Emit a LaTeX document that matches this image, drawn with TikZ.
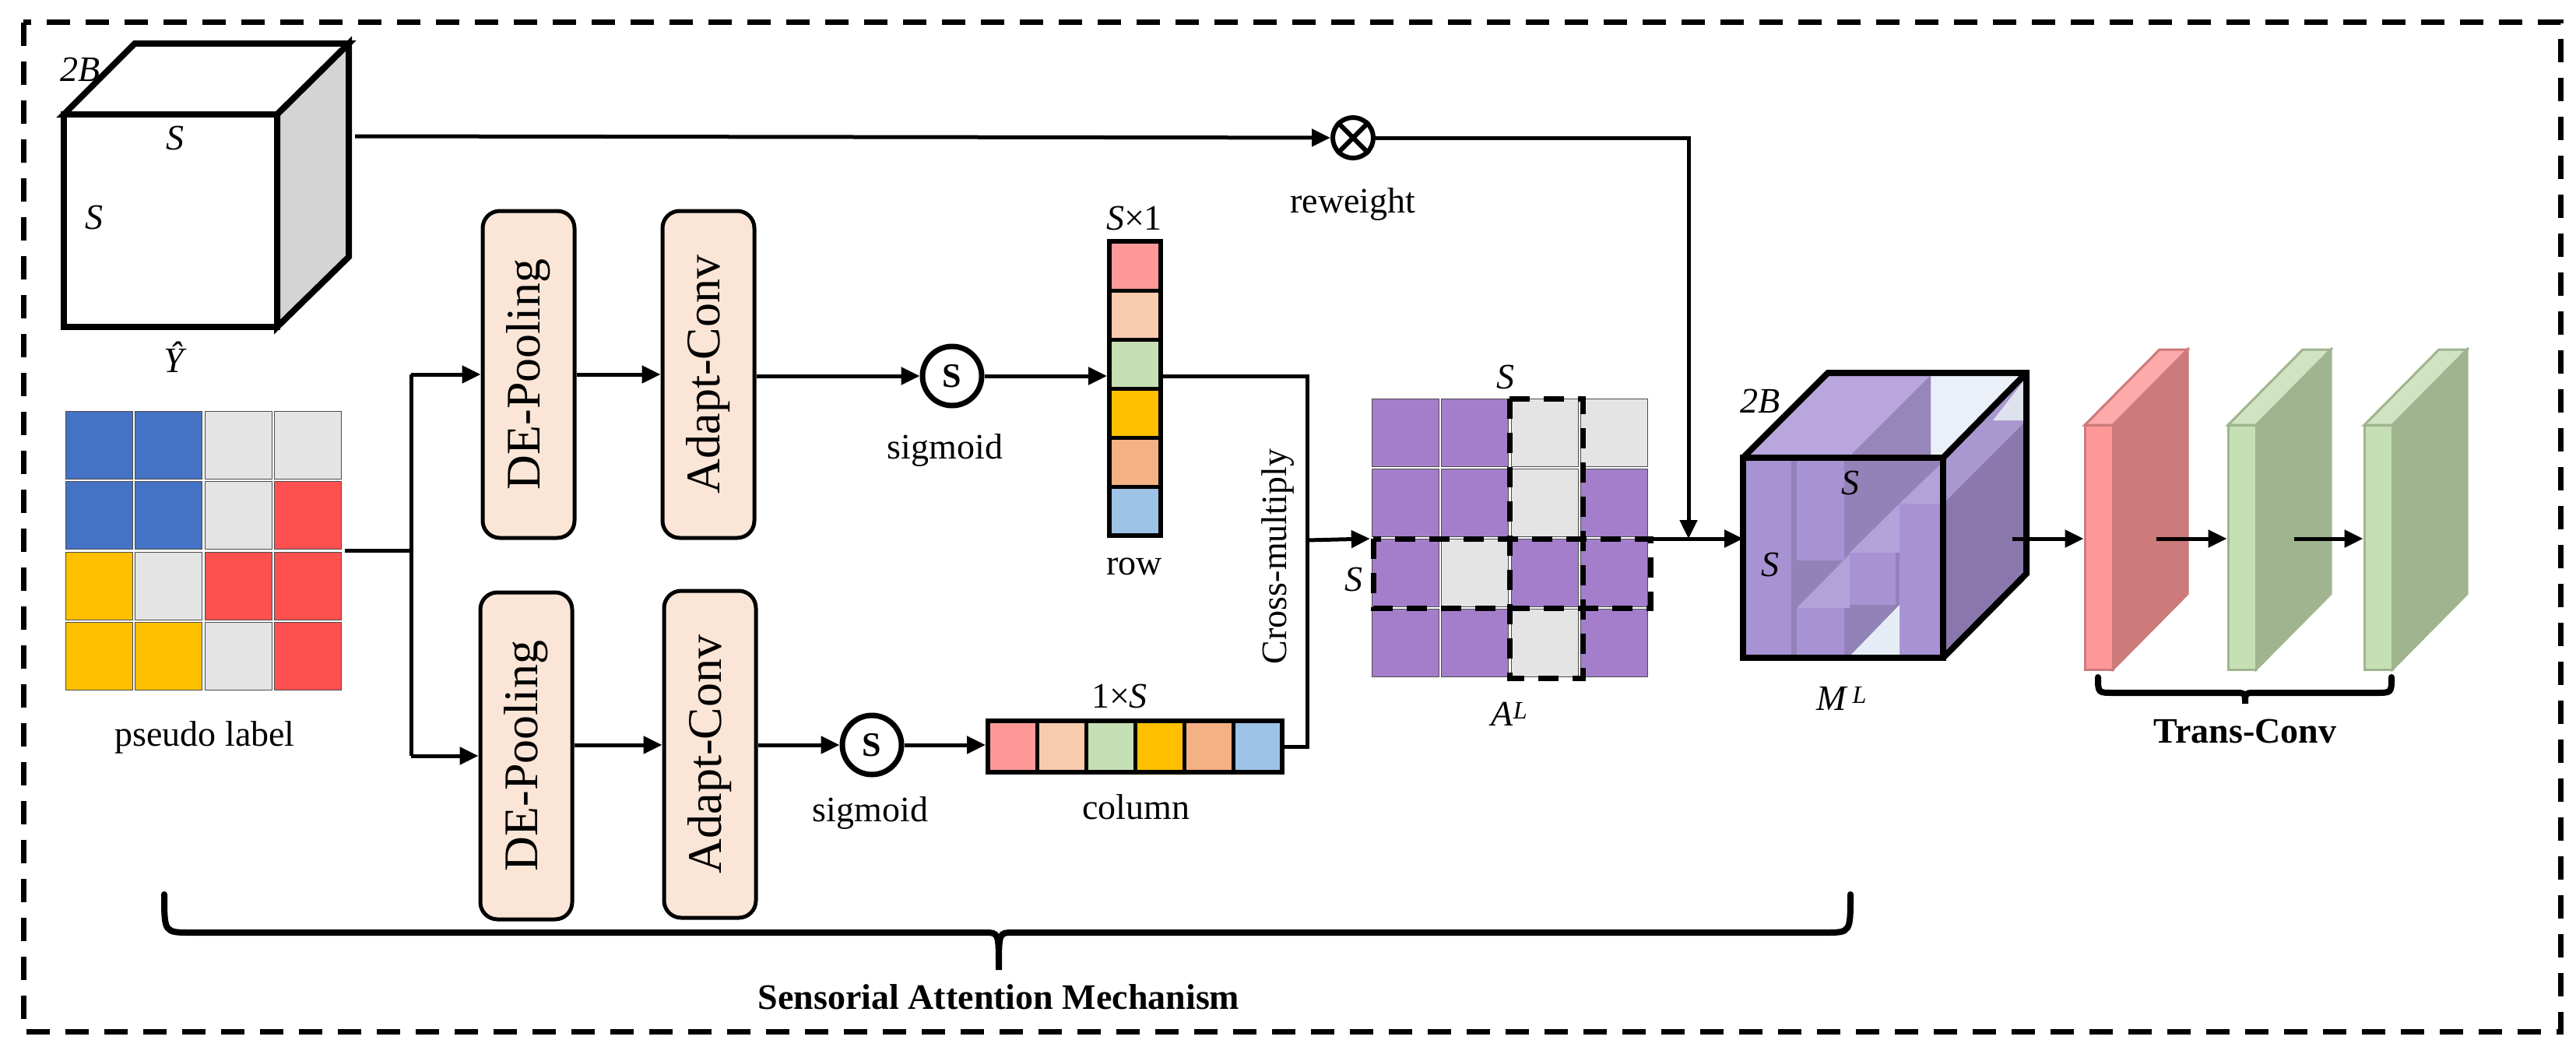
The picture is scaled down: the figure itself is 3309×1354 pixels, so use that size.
\documentclass[tikz,border=0pt]{standalone}
\usepackage{fontspec}
\setmainfont{Liberation Serif}
\usetikzlibrary{arrows.meta}
\definecolor{pblue}{HTML}{4472C4}\definecolor{pgray}{HTML}{E4E4E4}
\definecolor{pred}{HTML}{FF5050}\definecolor{pyel}{HTML}{FFC000}
\definecolor{ppur}{HTML}{A47ECB}\definecolor{boxf}{HTML}{FBE5D6}
\definecolor{c1}{HTML}{FF9999}\definecolor{c2}{HTML}{F8CBAD}\definecolor{c3}{HTML}{C5E0B4}
\definecolor{c4}{HTML}{FFC000}\definecolor{c5}{HTML}{F4B183}\definecolor{c6}{HTML}{9DC3E6}
\definecolor{mlight}{HTML}{EBF0F8}\definecolor{mtop}{HTML}{B8A6DC}\definecolor{mtopd}{HTML}{9786B9}
\definecolor{mside}{HTML}{8A78AD}\definecolor{msidel}{HTML}{A998CF}\definecolor{mgrey}{HTML}{DDE2EC}
\definecolor{mdark}{HTML}{9282B8}\definecolor{mpur}{HTML}{A792D3}\definecolor{mband}{HTML}{B3A2DA}
\definecolor{mwhite}{HTML}{E6ECF6}
\definecolor{rside}{HTML}{CC7A7A}\definecolor{rtop}{HTML}{FFAAAA}
\definecolor{gside}{HTML}{9FB48F}\definecolor{gtop}{HTML}{D0E4C3}
\tikzset{
 x=1pt,y=-1pt,
 arr/.style={line width=5pt,-{Triangle[length=24pt,width=22pt]}},
 ln/.style={line width=5pt},
 lab/.style={font=\fontsize{46}{50}\selectfont, inner sep=0pt},
 blab/.style={font=\fontsize{46}{50}\selectfont\bfseries, inner sep=0pt},
 box/.style={draw,line width=5pt,rounded corners=22pt,fill=boxf,minimum width=420pt,minimum height=118pt,rotate=90,font=\fontsize{62}{66}\selectfont,inner sep=0pt},
 sig/.style={draw,circle,line width=7pt,minimum size=76pt,inner sep=0pt,font=\fontsize{44}{48}\selectfont\bfseries},
 cell/.style={draw=black!70,line width=1pt},
 thick8/.style={line width=8pt,line join=miter},
}
\begin{document}
\begin{tikzpicture}
\useasboundingbox (0,0) rectangle (3309,1354);
% border
\draw[line width=7pt,dash pattern=on 30pt off 20pt] (30,29) rectangle (3289,1325);
% cube Y hat
\draw[thick8,fill=white] (82,147) -- (173,56) -- (448,56) -- (356,147) -- cycle;
\draw[thick8,fill=black!17] (356,147) -- (448,56) -- (448,330) -- (356,420) -- cycle;
\draw[thick8,fill=white] (82,147) rectangle (356,420);
\coordinate (yc) at (456,175);
\node[lab] at (103,89) {\textit{2B}};
\node[lab] at (225,177) {\textit{S}};
\node[lab] at (121,279) {\textit{S}};
\node[lab] (yhat) at (225,459) {\textit{Ŷ}};
% pseudo label grid
\foreach \r/\row in {0/{pblue,pblue,pgray,pgray},1/{pblue,pblue,pgray,pred},2/{pyel,pgray,pred,pred},3/{pyel,pyel,pgray,pred}}{
  \foreach[count=\c from 0] \col in \row { \draw[cell,fill=\col] (84+\c*89.5,528+\r*90.5) rectangle ++(86,87); } }
\node (pl) at (263,709) [minimum width=360pt,minimum height=362pt,inner sep=0pt] {};
\node[lab] at (263,947) {pseudo label};
% boxes
\node[box] (DE1) at (679,481) {DE-Pooling};
\node[box] (AC1) at (910,481) {Adapt-Conv};
\node[box] (DE2) at (676,971) {DE-Pooling};
\node[box] (AC2) at (912,969) {Adapt-Conv};
\coordinate (jn) at (528,707);
\draw[ln] (pl.east |- jn) -- (jn);
\draw[ln] (jn) -- (528,481) coordinate (j1);
\draw[ln] (jn) -- (528,971) coordinate (j2);
\draw[arr] (j1) -- (DE1.north);
\draw[arr] (j2) -- (DE2.north);
\draw[arr] (DE1.south) -- (AC1.north);
\draw[arr] (DE2.south |- 0,957) -- (AC2.north |- 0,957);
% sigmoids
\node[sig] (s1) at (1223,483) {S};
\node[sig] (s2) at (1120,957) {S};
\node[lab] at (1214,578) {sigmoid};
\node[lab] at (1118,1044) {sigmoid};
\draw[arr] (AC1.south |- s1) -- (s1);
\draw[arr] (AC2.south |- s2) -- (s2);
% row vector
\foreach[count=\i from 0] \col in {c1,c2,c3,c4,c5,c6} \fill[\col] (1425,310+\i*63) rectangle ++(66,63);
\foreach \i in {1,...,5} \draw[line width=5pt] (1425,310+\i*63) -- ++(66,0);
\node[draw,line width=6pt,minimum width=66pt,minimum height=378pt,inner sep=0pt] (rowv) at (1458,499) {};
\node[lab] at (1457,280) {\textit{S}×1};
\node[lab] at (1457,728) {row};
% column vector
\foreach[count=\i from 0] \col in {c1,c2,c3,c4,c5,c6} \fill[\col] (1269+\i*63,926) rectangle ++(63,66);
\foreach \i in {1,...,5} \draw[line width=5pt] (1269+\i*63,926) -- ++(0,66);
\node[draw,line width=6pt,minimum width=378pt,minimum height=66pt,inner sep=0pt] (colv) at (1458,959) {};
\node[lab] at (1438,894) {1×\textit{S}};
\node[lab] at (1459,1037) {column};
\draw[arr] (s1) -- (rowv.west |- s1);
\draw[arr] (s2) -- (colv.west |- s2);
\coordinate (cm) at (1679,694);
\draw[ln] (rowv.east |- s1) -| (cm) |- (colv.east);
\node[lab,rotate=90] at (1641,715) {Cross-multiply};
% A^L grid
\foreach \r/\row in {0/{ppur,ppur,pgray,pgray},1/{ppur,ppur,pgray,ppur},2/{ppur,pgray,ppur,ppur},3/{ppur,ppur,pgray,ppur}}{
  \foreach[count=\c from 0] \col in \row { \draw[cell,fill=\col] (1762+\c*89.5,512+\r*90) rectangle ++(86,87); } }
\draw[line width=7pt,dash pattern=on 26pt off 18pt] (1939,512) rectangle (2033,871);
\draw[line width=7pt,dash pattern=on 26pt off 18pt] (1764,692) rectangle (2120,781);
\node (AL) at (1941,692) [minimum width=362pt,minimum height=8pt,inner sep=0pt] {};
\node[lab] at (1934,484) {\textit{S}};
\node[lab] at (1739,744) {\textit{S}};
\node[lab] at (1939,917) {\textit{A}\textsuperscript{\textit{L}}};
\draw[arr] (cm) -- (AL.west);
% reweight
\node[draw,circle,line width=6pt,minimum size=52pt,inner sep=0pt] (ot) at (1738,177) {};
\draw[line width=6pt] (ot.north west) -- (ot.south east) (ot.north east) -- (ot.south west);
\node[lab] at (1738,263) {reweight};
\draw[arr] (yc) -- (ot);
\coordinate (rw) at (2169,692);
\draw[arr] (ot) -| (rw);
% M cube
\coordinate (Mf) at (2239,692);
\draw[arr] (AL.east) -- (Mf);
\begin{scope}
\clip (2239,588) -- (2348,479) -- (2603,479) -- (2496,588) -- cycle;
\fill[mlight] (2200,470) rectangle (2620,600);
\fill[mtop] (2239,588) -- (2348,479) -- (2480,479) -- (2480,588) -- cycle;
\fill[mtopd] (2374,588) -- (2480,482) -- (2480,588) -- cycle;
\end{scope}
\begin{scope}
\clip (2496,588) -- (2603,479) -- (2603,737) -- (2496,845) -- cycle;
\fill[mside] (2490,470) rectangle (2610,850);
\fill[msidel] (2496,588) -- (2603,479) -- (2603,540) -- (2496,647) -- cycle;
\fill[mgrey] (2560,540) -- (2603,485) -- (2603,540) -- cycle;
\end{scope}
\begin{scope}
\clip (2239,588) rectangle (2496,845);
\fill[mdark] (2239,588) rectangle (2496,845);
\fill[mpur] (2239,588) rectangle (2301,845);
\fill[mpur] (2308,588) rectangle (2369,720);
\fill[mpur] (2308,781) rectangle (2369,845);
\fill[mband] (2308,781) -- (2376,712) -- (2376,781) -- cycle;
\fill[mpur] (2376,710) rectangle (2435,777);
\fill[mband] (2376,710) -- (2440,647) -- (2440,710) -- cycle;
\fill[mpur] (2440,647) rectangle (2496,845);
\fill[mband] (2440,647) -- (2496,593) -- (2496,647) -- cycle;
\fill[mwhite] (2374,845) -- (2440,777) -- (2440,845) -- cycle;
\end{scope}
\draw[thick8] (2239,588) -- (2348,479) -- (2603,479) -- (2603,737) -- (2496,845) (2496,588) -- (2603,479);
\draw[thick8] (2239,588) rectangle (2496,845);
\node (M) at (2367,716) [minimum width=257pt,minimum height=257pt,inner sep=0pt] {};
\node[lab] at (2261,515) {\textit{2B}};
\node[lab] at (2377,620) {\textit{S}};
\node[lab] at (2274,725) {\textit{S}};
\node[lab] at (2366,897) {\textit{M}\textsuperscript{\,\textit{L}}};
% slabs
\foreach \n/\x/\ff/\fs/\ft in {r/2678/c1/rside/rtop, g/2862/c3/gside/gtop, h/3037/c3/gside/gtop}{
  \draw[line width=3pt,draw=\fs,fill=\fs] (\x+36,546) -- (\x+132,449) -- (\x+132,763) -- (\x+36,860) -- cycle;
  \draw[line width=3pt,draw=\fs,fill=\ft] (\x,546) -- (\x+96,449) -- (\x+132,449) -- (\x+36,546) -- cycle;
  \node[draw=\fs,line width=3pt,fill=\ff,minimum width=36pt,minimum height=314pt,inner sep=0pt] (\n) at (\x+18,703) {};
}
\draw[arr] (2585,692) -- (r.west |- 0,692);
\draw[arr] (2770,692) -- (g.west |- 0,692);
\draw[arr] (2947,692) -- (h.west |- 0,692);
% braces
\draw[line width=8pt,line cap=round] (2695,870) .. controls (2695,890) .. (2715,890) -- (2870,890) .. controls (2884,890) .. (2884,904) .. controls (2884,890) .. (2898,890) -- (3052,890) .. controls (3072,890) .. (3072,870);
\node[blab] at (2884,939) {Trans-Conv};
\draw[line width=8pt,line cap=round] (211,1149) .. controls (211,1198) .. (245,1198) -- (1265,1198) .. controls (1283,1198) .. (1283,1246) .. controls (1283,1198) .. (1301,1198) -- (2345,1198) .. controls (2377,1198) .. (2377,1149);
\node[blab] at (1283,1281) {Sensorial Attention Mechanism};
\end{tikzpicture}
\end{document}
